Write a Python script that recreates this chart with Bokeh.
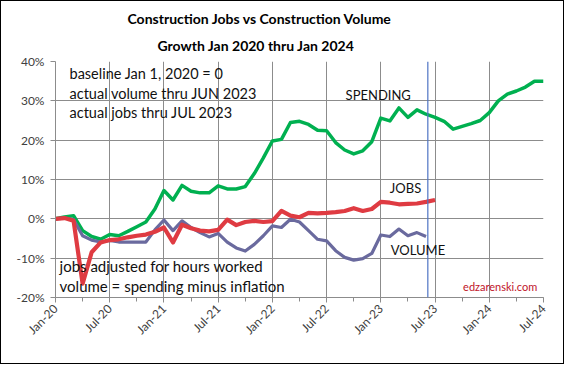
from bokeh.plotting import figure
from bokeh.models import Label, Span, FixedTicker, Title
from bokeh.embed import file_html
from bokeh.resources import INLINE
import math

# months since Jan 2020
tick_months = [0, 6, 12, 18, 24, 30, 36, 42, 48, 54]
tick_labels = ["Jan-20", "Jul-20", "Jan-21", "Jul-21", "Jan-22", "Jul-22",
               "Jan-23", "Jul-23", "Jan-24", "Jul-24"]

spending = [0, 0.5, 0.8, -3.0, -4.5, -5.2, -4.0, -4.3, -3.2, -2.0, -0.8, 2.5,
            7.2, 4.8, 8.5, 7.0, 6.6, 6.6, 8.4, 7.6, 7.6, 8.2, 11.5, 15.5,
            19.8, 20.2, 24.5, 24.8, 24.0, 22.5, 22.4, 19.4, 17.5, 16.5, 17.3, 19.6,
            25.6, 24.9, 28.2, 25.8, 27.7, 26.6, 25.8, 24.8, 22.8, 23.5, 24.2, 25.0,
            27.0, 30.0, 31.7, 32.5, 33.5, 35.0, 35.0]
jobs = [0, 0.2, -0.5, -16.5, -8.5, -6.0, -5.4, -5.2, -4.7, -4.3, -4.0, -3.3,
        -2.2, -6.0, -1.5, -2.4, -3.0, -3.2, -2.8, -0.2, -1.6, -0.8, -0.5, -0.8,
        -0.6, 2.0, 0.8, 0.4, 1.5, 1.4, 1.5, 1.7, 2.0, 2.7, 2.0, 2.5,
        4.3, 4.1, 3.7, 3.8, 3.9, 4.3, 4.8]
volume = [0, 0.2, -0.2, -4.3, -5.4, -5.9, -5.5, -5.9, -5.9, -5.9, -5.9, -2.8,
          -0.3, -3.0, -0.5, -2.2, -3.5, -4.6, -3.7, -5.9, -7.4, -8.2, -6.5, -4.3,
          -1.8, -2.2, -0.1, -0.8, -3.0, -5.2, -5.6, -8.1, -9.8, -10.5, -10.1, -8.8,
          -4.1, -4.5, -2.6, -4.3, -3.5, -4.5]
actual_cutoff = 41.2

FONT = "Lato"

p = figure(width=564, height=364, output_backend="svg", toolbar_location=None,
           x_range=(0, 54), y_range=(-20, 40),
           min_border_left=54, min_border_right=22, min_border_top=60, min_border_bottom=68)
p.styles = {"border": "1px solid black", "box-sizing": "border-box"}
p.outline_line_color = None
p.background_fill_color = "white"

p.title = Title(text="Construction Jobs vs Construction Volume", align="left", offset=72,
                text_font=FONT, text_font_size="14px", text_font_style="bold",
                text_color="black", standoff=0, text_line_height=0.75)
p.add_layout(Title(text="Growth Jan 2020 thru Jan 2024", align="left", offset=102,
                   text_font=FONT, text_font_size="14px", text_font_style="bold",
                   text_color="black", standoff=16), "above")

p.xaxis.ticker = FixedTicker(ticks=tick_months, minor_ticks=list(range(0, 55, 3)))
p.xaxis.major_label_overrides = {m: l for m, l in zip(tick_months, tick_labels)}
p.xaxis.major_label_orientation = math.pi / 4
p.yaxis.ticker = FixedTicker(ticks=[-20, -10, 0, 10, 20, 30, 40])
p.yaxis.major_label_overrides = {v: f"{v}%" for v in [-20, -10, 0, 10, 20, 30, 40]}
for ax in (p.xaxis, p.yaxis):
    ax.axis_line_color = "#8c8c8c"
    ax.major_tick_line_color = "#8c8c8c"
    ax.major_tick_in = 0
    ax.major_tick_out = 5
    ax.major_label_text_font = FONT
    ax.major_label_text_font_size = "12px"
    ax.major_label_text_color = "#404040"
p.xaxis.minor_tick_line_color = "#8c8c8c"
p.xaxis.minor_tick_in = 0
p.xaxis.minor_tick_out = 4
p.yaxis.minor_tick_line_color = None
p.xaxis.major_label_standoff = 4
p.yaxis.major_label_standoff = 6

p.xgrid.ticker = FixedTicker(ticks=tick_months)
p.ygrid.ticker = FixedTicker(ticks=[-20, -10, 0, 10, 20, 30, 40])
p.grid.grid_line_color = "#8c8c8c"
p.grid.grid_line_width = 1

p.add_layout(Span(location=actual_cutoff, dimension="height", line_color="#4f74c4", line_width=1.2))

p.line(list(range(len(spending))), spending, line_color="#00b050", line_width=3.5, line_join="round")
p.line(list(range(len(volume))), volume, line_color="#6a6a9e", line_width=3.2, line_join="round")
p.line(list(range(len(jobs))), jobs, line_color="#df3b42", line_width=4.2, line_join="round")

def lab(x, y, t, size="13px", color="#111111", align="left"):
    p.add_layout(Label(x=x, y=y, text=t, text_font=FONT, text_font_size=size,
                       text_color=color, text_baseline="middle", text_align=align))

lab(1.55, 36.9, "baseline Jan 1, 2020 = 0", size="14.5px")
lab(1.55, 31.8, "actual volume thru JUN 2023", size="14.5px")
lab(1.55, 27.0, "actual jobs thru JUL 2023", size="14.5px")
lab(0.45, -12.0, "jobs adjusted for hours worked", size="15px")
lab(0.45, -17.1, "volume = spending minus inflation", size="15px")
lab(32.1, 31.6, "SPENDING")
lab(37.0, 7.9, "JOBS")
lab(37.1, -7.9, "VOLUME")
lab(45.1, -17.2, "edzarenski.com", size="11px", color="#c0142a")

open("out.html", "w").write(file_html(p, INLINE))
